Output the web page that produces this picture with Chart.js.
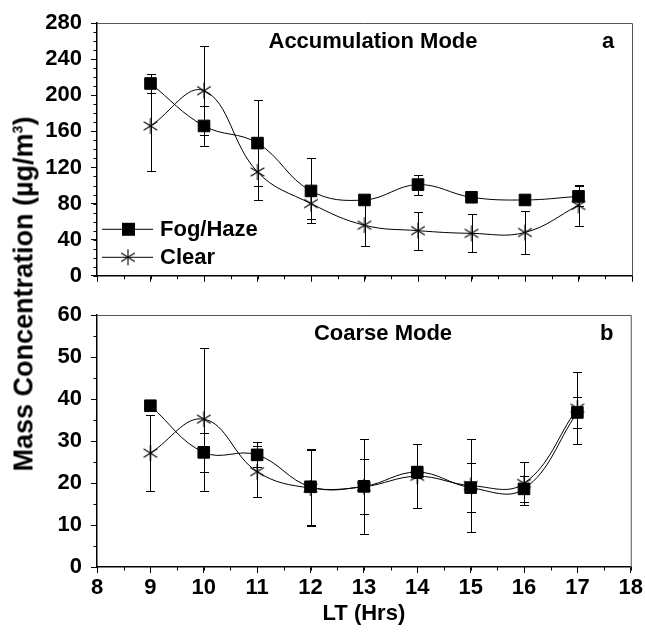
<!DOCTYPE html>
<html>
<head>
<meta charset="utf-8">
<script src="https://cdn.jsdelivr.net/npm/chart.js@4.4.1/dist/chart.umd.min.js"></script>
<style>
    body { margin: 0; background: #fff; width: 645px; height: 633px; position: relative; overflow: hidden; font-family: "Liberation Sans", Arial, sans-serif; }
    #topWrap { position: absolute; left: 0; top: 0; width: 645px; height: 298px; }
    #botWrap { position: absolute; left: 0; top: 290px; width: 645px; height: 343px; }
    #yTitle {
        position: absolute; left: 24px; top: 294px;
        transform: translate(-50%, -50%) rotate(-90deg);
        white-space: nowrap; font-weight: bold; font-size: 27px; color: #000;
    }
    #yTitle sup { font-size: 14px; }
</style>
</head>
<body>
<div id="topWrap"><canvas id="accChart" width="645" height="298"></canvas></div>
<div id="botWrap"><canvas id="coarseChart" width="645" height="343"></canvas></div>
<div id="yTitle">Mass Concentration (&micro;g/m<sup>3</sup>)</div>

<script>
// Data
const hours = [9, 10, 11, 12, 13, 14, 15, 16, 17];

// Accumulation mode
const accFog = [213, 166, 147, 94, 84, 101, 87, 84, 88];
const accFogErr = [11, 22, 48, 36, 4, 11, 3, 3, 11];
const accClear = [166, 205, 115, 80, 56, 50, 47, 48, 78];
const accClearErr = [50, 49, 31, 17, 23, 21, 21, 24, 23];

// Coarse mode
const coarseFog = [38.4, 27.3, 26.7, 19.1, 19.2, 22.6, 18.9, 18.6, 36.8];
const coarseFogErr = [1, 4.7, 3, 9, 6.6, 1.5, 5.8, 3.1, 3.6];
const coarseClear = [27.1, 35.2, 22.7, 18.8, 19.1, 21.6, 19.4, 19.9, 37.8];
const coarseClearErr = [9, 17, 6.1, 9, 11.3, 7.6, 11, 5.2, 8.6];

const FONT = '"Liberation Sans", Arial, sans-serif';

// Asterisk marker (vertical + two diagonals)
function makeAsterisk(r) {
    const c = document.createElement('canvas');
    const s = r * 2 + 2;
    c.width = s; c.height = s;
    const ctx = c.getContext('2d');
    ctx.strokeStyle = '#000';
    ctx.lineWidth = 1.1;
    ctx.translate(s / 2, s / 2);
    [90, 32, -32].forEach(deg => {
        const a = deg * Math.PI / 180;
        ctx.beginPath();
        ctx.moveTo(-Math.cos(a) * r, -Math.sin(a) * r);
        ctx.lineTo(Math.cos(a) * r, Math.sin(a) * r);
        ctx.stroke();
    });
    return c;
}
const asterisk = makeAsterisk(8);

const toPoints = (vals) => hours.map((h, i) => ({ x: h, y: vals[i] }));

// Error bars, drawn behind markers
const errorBars = {
    id: 'errorBars',
    beforeDatasetsDraw(chart) {
        const ctx = chart.ctx;
        const yScale = chart.scales.y;
        ctx.save();
        ctx.strokeStyle = '#000';
        ctx.lineWidth = 1;
        chart.data.datasets.forEach((ds, di) => {
            const meta = chart.getDatasetMeta(di);
            meta.data.forEach((pt, i) => {
                const v = ds.data[i].y, e = ds.errors[i];
                const y1 = Math.round(yScale.getPixelForValue(v - e)) + 0.5;
                const y2 = Math.round(yScale.getPixelForValue(v + e)) + 0.5;
                const x = Math.round(pt.x) + 0.5;
                ctx.beginPath();
                ctx.moveTo(x, y1); ctx.lineTo(x, y2);
                ctx.moveTo(x - 4.5, y1); ctx.lineTo(x + 4.5, y1);
                ctx.moveTo(x - 4.5, y2); ctx.lineTo(x + 4.5, y2);
                ctx.stroke();
            });
        });
        ctx.restore();
    }
};

// Minor ticks, frame, panel labels and legend
const decorations = {
    id: 'decorations',
    afterDraw(chart, args, opts) {
        const ctx = chart.ctx;
        const area = chart.chartArea;
        const xs = chart.scales.x, ys = chart.scales.y;
        ctx.save();

        // frame top/right
        ctx.strokeStyle = '#555';
        ctx.lineWidth = 1;
        ctx.beginPath();
        ctx.moveTo(area.left, area.top + 0.5);
        ctx.lineTo(area.right + 0.5, area.top + 0.5);
        ctx.lineTo(area.right + 0.5, area.bottom);
        ctx.stroke();

        // minor ticks
        ctx.strokeStyle = '#000';
        ctx.beginPath();
        for (let v = xs.min; v <= xs.max + 1e-9; v += opts.xMinor) {
            const px = Math.round(xs.getPixelForValue(v)) + 0.5;
            ctx.moveTo(px, area.bottom); ctx.lineTo(px, area.bottom + 3.5);
        }
        for (let v = ys.min; v <= ys.max + 1e-9; v += opts.yMinor) {
            const py = Math.round(ys.getPixelForValue(v)) + 0.5;
            ctx.moveTo(area.left, py); ctx.lineTo(area.left - 3.5, py);
        }
        ctx.stroke();

        // panel title and letter
        ctx.fillStyle = '#000';
        ctx.font = 'bold 22px ' + FONT;
        ctx.textAlign = 'center';
        ctx.textBaseline = 'middle';
        ctx.fillText(opts.title, area.left + opts.titleX, area.top + 19);
        ctx.fillText(opts.letter, area.right - 24, area.top + 19);

        // legend
        if (opts.legend) {
            const rows = [
                { label: 'Fog/Haze', y: area.bottom - 47, marker: 'rect' },
                { label: 'Clear', y: area.bottom - 19, marker: 'star' }
            ];
            rows.forEach(r => {
                ctx.strokeStyle = '#000';
                ctx.lineWidth = 1;
                ctx.beginPath();
                ctx.moveTo(area.left + 5, r.y + 0.5);
                ctx.lineTo(area.left + 56, r.y + 0.5);
                ctx.stroke();
                const mx = area.left + 31;
                if (r.marker === 'rect') {
                    ctx.fillRect(mx - 6, r.y - 6, 13, 13);
                } else {
                    ctx.drawImage(asterisk, mx - asterisk.width / 2, r.y - asterisk.height / 2 + 0.5);
                }
                ctx.font = 'bold 22px ' + FONT;
                ctx.textAlign = 'left';
                ctx.fillText(r.label, area.left + 63, r.y + 1);
            });
        }
        ctx.restore();
    }
};

function makeDatasets(fog, fogErr, clear, clearErr) {
    return [{
        label: 'Fog/Haze',
        data: toPoints(fog),
        errors: fogErr,
        borderColor: '#000',
        backgroundColor: '#000',
        borderWidth: 1,
        pointStyle: 'rect',
        pointRadius: 8.2,
        tension: 0.4
    }, {
        label: 'Clear',
        data: toPoints(clear),
        errors: clearErr,
        borderColor: '#000',
        backgroundColor: '#000',
        borderWidth: 1,
        pointStyle: asterisk,
        pointRadius: 8,
        tension: 0.4
    }];
}

function makeOptions(cfg) {
    return {
        responsive: false,
        animation: false,
        events: [],
        layout: { padding: { top: cfg.padTop, right: 13, left: 0, bottom: 0 } },
        plugins: {
            legend: { display: false },
            tooltip: { enabled: false },
            decorations: cfg.deco
        },
        scales: {
            x: {
                type: 'linear',
                min: 8, max: 18,
                afterFit: (axis) => { axis.height = cfg.xHeight; },
                border: { display: true, color: '#000', width: 1.5 },
                grid: { drawOnChartArea: false, drawTicks: true, tickLength: 6, color: '#000', lineWidth: 1 },
                ticks: {
                    display: cfg.xLabels,
                    stepSize: 1,
                    padding: 2,
                    color: '#000',
                    font: { family: FONT, size: 22, weight: 'bold' }
                },
                title: {
                    display: cfg.xLabels,
                    text: 'LT (Hrs)',
                    color: '#000',
                    padding: { top: 0, bottom: 6 },
                    font: { family: FONT, size: 22, weight: 'bold' }
                }
            },
            y: {
                min: 0, max: cfg.yMax,
                afterFit: (axis) => { axis.width = 97; },
                border: { display: true, color: '#000', width: 1.5 },
                grid: { drawOnChartArea: false, drawTicks: true, tickLength: 6, color: '#000', lineWidth: 1 },
                ticks: {
                    stepSize: cfg.yStep,
                    padding: 9,
                    color: '#000',
                    font: { family: FONT, size: 22, weight: 'bold' }
                }
            }
        }
    };
}

// Accumulation Mode
new Chart(document.getElementById('accChart').getContext('2d'), {
    type: 'line',
    data: { datasets: makeDatasets(accFog, accFogErr, accClear, accClearErr) },
    options: makeOptions({
        padTop: 23, xHeight: 15, xLabels: false, yMax: 280, yStep: 40,
        deco: { xMinor: 0.5, yMinor: 10, title: 'Accumulation Mode', titleX: 276, letter: 'a', legend: true }
    }),
    plugins: [errorBars, decorations]
});

// Coarse Mode
new Chart(document.getElementById('coarseChart').getContext('2d'), {
    type: 'line',
    data: { datasets: makeDatasets(coarseFog, coarseFogErr, coarseClear, coarseClearErr) },
    options: makeOptions({
        padTop: 25, xHeight: 66, xLabels: true, yMax: 60, yStep: 10,
        deco: { xMinor: 0.5, yMinor: 5, title: 'Coarse Mode', titleX: 286, letter: 'b', legend: false }
    }),
    plugins: [errorBars, decorations]
});
</script>
</body>
</html>
